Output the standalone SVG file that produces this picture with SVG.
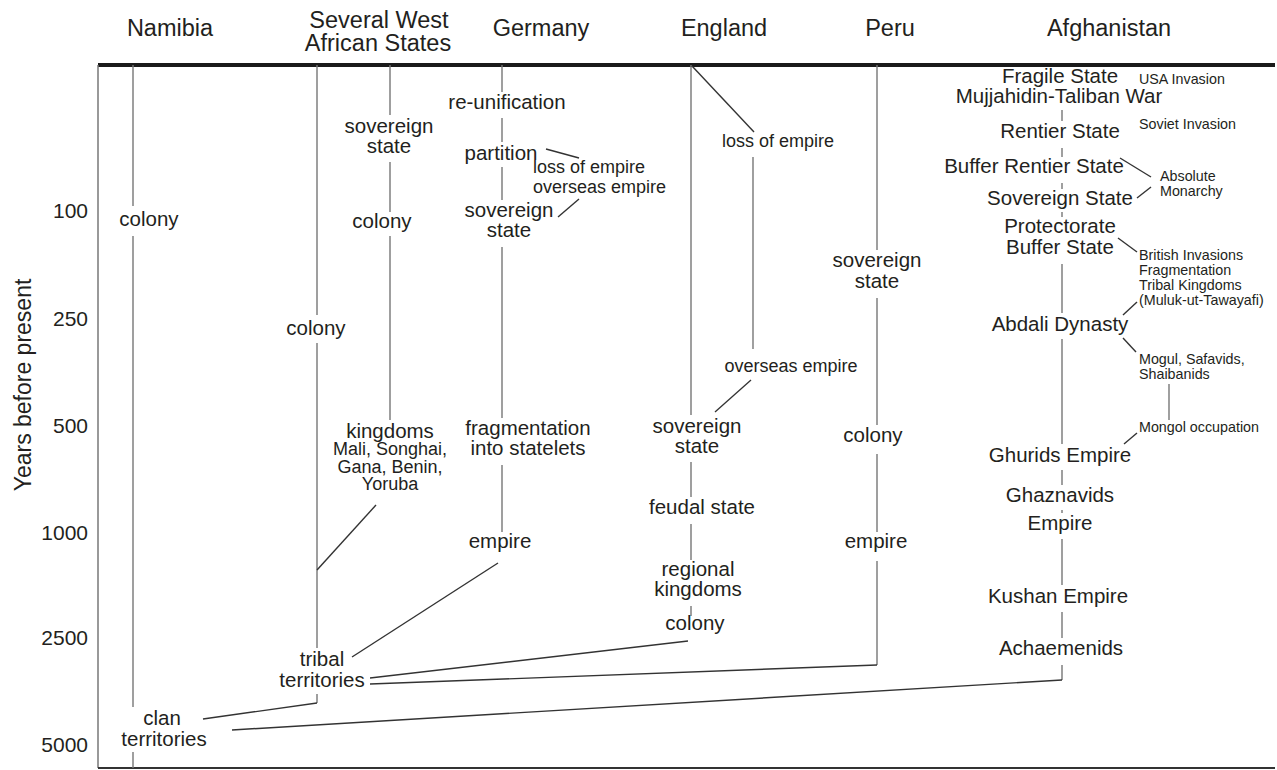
<svg xmlns="http://www.w3.org/2000/svg" width="1277" height="770" viewBox="0 0 1277 770">
  <style>
    text { font-family: "Liberation Sans", Arial, sans-serif; fill: #231f20; }
    .h { font-size: 23.5px; text-anchor: middle; }
    .l { font-size: 20.5px; text-anchor: middle; }
    .m { font-size: 18px; text-anchor: middle; }
    .ms { font-size: 18px; text-anchor: start; }
    .s { font-size: 14.3px; text-anchor: start; }
    .tick { font-size: 21px; text-anchor: end; }
    .axt { font-size: 23px; text-anchor: middle; }
    .v { stroke: #777; stroke-width: 1.4; fill: none; }
    .d { stroke: #333; stroke-width: 1.4; fill: none; }
  </style>
  <rect width="1277" height="770" fill="#fff"/>

  <!-- frame and time axis -->
  <g id="frame">
    <line x1="98" y1="65" x2="1275" y2="65" stroke="#1a1a1a" stroke-width="4"/>
    <line x1="98" y1="65" x2="98" y2="768" stroke="#777" stroke-width="1.5"/>
    <line x1="98" y1="768" x2="1275" y2="768" stroke="#333" stroke-width="2"/>
  </g>
  <g id="axis">
    <text class="axt" transform="translate(31,385) rotate(-90)">Years before present</text>
    <text class="tick" x="88" y="218">100</text>
    <text class="tick" x="88" y="326">250</text>
    <text class="tick" x="88" y="433">500</text>
    <text class="tick" x="88" y="540">1000</text>
    <text class="tick" x="88" y="645">2500</text>
    <text class="tick" x="88" y="752">5000</text>
  </g>

  <!-- column headers -->
  <g id="headers">
    <text class="h" x="170" y="36">Namibia</text>
    <text class="h" x="379" y="28">Several West</text>
    <text class="h" x="378" y="51">African States</text>
    <text class="h" x="541" y="36">Germany</text>
    <text class="h" x="724" y="36">England</text>
    <text class="h" x="890" y="36">Peru</text>
    <text class="h" x="1109" y="36">Afghanistan</text>
  </g>

  <!-- connectors -->
  <g id="connectors">
    <!-- Namibia -->
    <path class="v" d="M133 65V206M133 236V707M133 752V768"/>
    <!-- West Africa -->
    <path class="v" d="M317 65V315M317 343V648M317 694V703"/>
    <path class="v" d="M390 65V115M390 162V212M390 236V420"/>
    <!-- Germany -->
    <path class="v" d="M502 65V92M502 118V142M502 167V200M502 247V418M502 465V532"/>
    <!-- England -->
    <path class="v" d="M691 65V415M691 462V497M691 524V560M691 606V616"/>
    <path class="v" d="M753 157V349"/>
    <!-- Peru -->
    <path class="v" d="M877 65V250M877 298V425M877 454V532M877 561V665"/>
    <!-- Afghanistan -->
    <path class="v" d="M1062 110V121M1062 148V157M1062 183V189M1062 212V217M1062 264V313M1062 339V444M1062 470V485M1062 510V513M1062 539V585M1062 612V638M1062 665V680"/>
    <path class="v" d="M1169 384V420"/>

    <!-- links between columns -->
    <path class="d" d="M317 570L376 505"/>
    <path class="d" d="M317 703L203 719"/>
    <path class="d" d="M498 563L352 657"/>
    <path class="d" d="M688 641L370 678"/>
    <path class="d" d="M877 665L370 684"/>
    <path class="d" d="M1062 680L232 730"/>
    <path class="d" d="M546 149L579 158"/>
    <path class="d" d="M558 217L579 199"/>
    <path class="d" d="M692 66L754 132"/>
    <path class="d" d="M751 380L715 412"/>
    <path class="d" d="M1120 158L1151 177"/>
    <path class="d" d="M1137 198L1151 187"/>
    <path class="d" d="M1118 238L1137 252"/>
    <path class="d" d="M1123 315L1137 302"/>
    <path class="d" d="M1123 338L1136 352"/>
    <path class="d" d="M1124 444L1137 433"/>
  </g>

  <!-- Namibia -->
  <g id="nam-colony"><text class="l" x="149" y="226">colony</text></g>
  <g id="nam-clan"><text class="l" x="162" y="725">clan</text><text class="l" x="164" y="746">territories</text></g>

  <!-- Several West African States -->
  <g id="wa-colony"><text class="l" x="316" y="335">colony</text></g>
  <g id="wa-sovereign"><text class="l" x="389" y="133">sovereign</text><text class="l" x="389" y="153">state</text></g>
  <g id="wa-colony2"><text class="l" x="382" y="228">colony</text></g>
  <g id="wa-kingdoms">
    <text class="l" x="390" y="438">kingdoms</text>
    <text class="m" x="390" y="455">Mali, Songhai,</text>
    <text class="m" x="390" y="473">Gana, Benin,</text>
    <text class="m" x="390" y="490">Yoruba</text>
  </g>
  <g id="wa-tribal"><text class="l" x="322" y="666">tribal</text><text class="l" x="322" y="687">territories</text></g>

  <!-- Germany -->
  <g id="de-reunification"><text class="l" x="507" y="109">re-unification</text></g>
  <g id="de-partition"><text class="l" x="501" y="160">partition</text></g>
  <g id="de-empire-change"><text class="ms" x="533" y="173">loss of empire</text><text class="ms" x="533" y="193">overseas empire</text></g>
  <g id="de-sovereign"><text class="l" x="509" y="217">sovereign</text><text class="l" x="509" y="237">state</text></g>
  <g id="de-fragmentation"><text class="l" x="528" y="435">fragmentation</text><text class="l" x="528" y="455">into statelets</text></g>
  <g id="de-empire"><text class="l" x="500" y="548">empire</text></g>

  <!-- England -->
  <g id="en-loss"><text class="m" x="778" y="147">loss of empire</text></g>
  <g id="en-overseas"><text class="m" x="791" y="372">overseas empire</text></g>
  <g id="en-sovereign"><text class="l" x="697" y="433">sovereign</text><text class="l" x="697" y="453">state</text></g>
  <g id="en-feudal"><text class="l" x="702" y="514">feudal state</text></g>
  <g id="en-regional"><text class="l" x="698" y="576">regional</text><text class="l" x="698" y="596">kingdoms</text></g>
  <g id="en-colony"><text class="l" x="695" y="630">colony</text></g>

  <!-- Peru -->
  <g id="pe-sovereign"><text class="l" x="877" y="267">sovereign</text><text class="l" x="877" y="288">state</text></g>
  <g id="pe-colony"><text class="l" x="873" y="442">colony</text></g>
  <g id="pe-empire"><text class="l" x="876" y="548">empire</text></g>

  <!-- Afghanistan -->
  <g id="af-fragile"><text class="l" x="1060" y="83">Fragile State</text><text class="l" x="1059" y="103">Mujjahidin-Taliban War</text></g>
  <g id="af-rentier"><text class="l" x="1060" y="138">Rentier State</text></g>
  <g id="af-buffer-rentier"><text class="l" x="1034" y="173">Buffer Rentier State</text></g>
  <g id="af-sovereign"><text class="l" x="1060" y="205">Sovereign State</text></g>
  <g id="af-protectorate"><text class="l" x="1060" y="233">Protectorate</text><text class="l" x="1060" y="254">Buffer State</text></g>
  <g id="af-abdali"><text class="l" x="1060" y="331">Abdali Dynasty</text></g>
  <g id="af-ghurids"><text class="l" x="1060" y="462">Ghurids Empire</text></g>
  <g id="af-ghaznavids"><text class="l" x="1060" y="502">Ghaznavids</text><text class="l" x="1060" y="530">Empire</text></g>
  <g id="af-kushan"><text class="l" x="1058" y="603">Kushan Empire</text></g>
  <g id="af-achaemenids"><text class="l" x="1061" y="655">Achaemenids</text></g>
  <g id="af-usa"><text class="s" x="1139" y="84">USA Invasion</text></g>
  <g id="af-soviet"><text class="s" x="1139" y="129">Soviet Invasion</text></g>
  <g id="af-monarchy"><text class="s" x="1160" y="181">Absolute</text><text class="s" x="1160" y="196">Monarchy</text></g>
  <g id="af-british">
    <text class="s" x="1139" y="260">British Invasions</text>
    <text class="s" x="1139" y="275">Fragmentation</text>
    <text class="s" x="1139" y="290">Tribal Kingdoms</text>
    <text class="s" x="1139" y="305">(Muluk-ut-Tawayafi)</text>
  </g>
  <g id="af-mogul"><text class="s" x="1139" y="364">Mogul, Safavids,</text><text class="s" x="1139" y="379">Shaibanids</text></g>
  <g id="af-mongol"><text class="s" x="1139" y="432">Mongol occupation</text></g>
</svg>
